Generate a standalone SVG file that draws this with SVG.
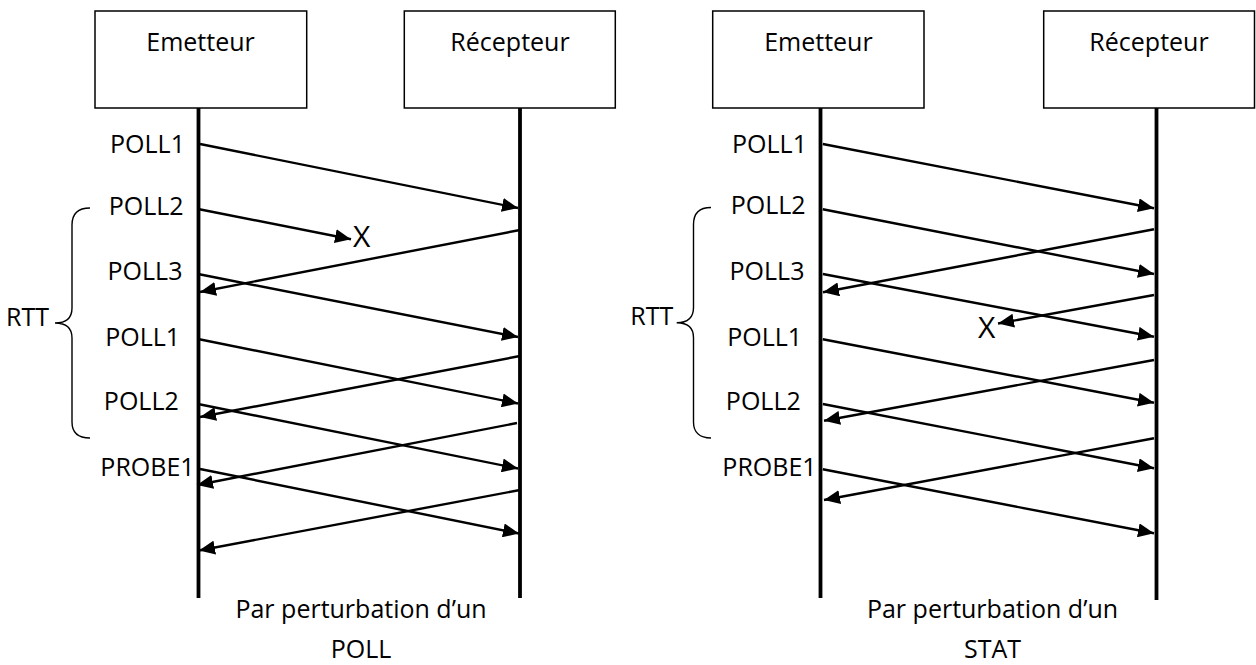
<svg xmlns="http://www.w3.org/2000/svg" width="1256" height="665" viewBox="0 0 1256 665">
  <style>
    .box { fill: #ffffff; stroke: #000000; stroke-width: 1.5; }
    .life { stroke: #000000; stroke-width: 3.8; fill: none; }
    .msg { stroke: #000000; stroke-width: 2.4; fill: none; marker-end: url(#head); }
    .brace { stroke: #000000; stroke-width: 1.4; fill: none; }
    text { font-family: "Open Sans", "Noto Sans", "DejaVu Sans", sans-serif; font-size: 25px; fill: #000000; }
    .c { text-anchor: middle; }
    .lost { font-size: 30px; }
  </style>
  <defs>
    <marker id="head" viewBox="0 0 16 14" refX="16" refY="7" markerWidth="16" markerHeight="14" markerUnits="userSpaceOnUse" orient="auto">
      <path d="M0,0 L16,7 L0,14 z" fill="#000000"/>
    </marker>
  </defs>

  <!-- Scenario 1: a lost POLL -->
  <g id="emetteur-1">
    <rect class="box" x="95" y="11" width="211.7" height="97"/>
    <text class="c" x="200.5" y="50.7">Emetteur</text>
    <line class="life" x1="198.5" y1="108" x2="198.5" y2="598"/>
  </g>
  <g id="recepteur-1">
    <rect class="box" x="404.3" y="11" width="211" height="97"/>
    <text class="c" x="510" y="50.7">Récepteur</text>
    <line class="life" x1="520" y1="108" x2="520" y2="598"/>
  </g>
  <g id="labels-1">
    <text class="c" x="147.5" y="153">POLL1</text>
    <text class="c" x="146.2" y="215">POLL2</text>
    <text class="c" x="145" y="280">POLL3</text>
    <text class="c" x="142.7" y="345.7">POLL1</text>
    <text class="c" x="141.3" y="410">POLL2</text>
    <text class="c" x="147.5" y="476">PROBE1</text>
    <text class="lost c" x="361.7" y="246.7">X</text>
  </g>
  <g id="rtt-1">
    <path class="brace" d="M90,208 C78,208 72,214 72,225 L72,308 C72,318 66,323 55,323 C66,323 72,328 72,338 L72,422 C72,432 78,438 90,438"/>
    <text x="49" y="325.7" text-anchor="end">RTT</text>
  </g>
  <g id="caption-1">
    <text class="c" x="361" y="617.5">Par perturbation d’un</text>
    <text class="c" x="361" y="658">POLL</text>
  </g>

  <!-- Scenario 2: a lost STAT -->
  <g id="emetteur-2">
    <rect class="box" x="712.7" y="11" width="211.3" height="97"/>
    <text class="c" x="818.4" y="50.7">Emetteur</text>
    <line class="life" x1="820.5" y1="108" x2="820.5" y2="598"/>
  </g>
  <g id="recepteur-2">
    <rect class="box" x="1043.7" y="11" width="210.8" height="97"/>
    <text class="c" x="1149" y="50.7">Récepteur</text>
    <line class="life" x1="1156.5" y1="108" x2="1156.5" y2="600"/>
  </g>
  <g id="labels-2">
    <text class="c" x="769.5" y="153">POLL1</text>
    <text class="c" x="768.2" y="214">POLL2</text>
    <text class="c" x="767" y="280">POLL3</text>
    <text class="c" x="764.7" y="345.7">POLL1</text>
    <text class="c" x="763.3" y="410">POLL2</text>
    <text class="c" x="769.5" y="476">PROBE1</text>
    <text class="lost c" x="986.7" y="338.3">X</text>
  </g>
  <g id="rtt-2">
    <path class="brace" d="M711,207.5 C699.5,207.5 693.5,213.5 693.5,224.5 L693.5,307.5 C693.5,317.5 687.5,322.7 676.7,322.7 C687.5,322.7 693.5,327.7 693.5,337.7 L693.5,422 C693.5,432 699.5,438 711,438"/>
    <text x="673.3" y="325.3" text-anchor="end">RTT</text>
  </g>
  <g id="caption-2">
    <text class="c" x="992.5" y="617.5">Par perturbation d’un</text>
    <text class="c" x="992.5" y="658">STAT</text>
  </g>

  <!-- Messages -->
  <g id="connectors">
    <line class="msg" x1="200" y1="144" x2="518" y2="208"/>
    <line class="msg" x1="198" y1="209" x2="351" y2="239.3"/>
    <line class="msg" x1="520" y1="230" x2="200" y2="292"/>
    <line class="msg" x1="198" y1="274" x2="518" y2="337"/>
    <line class="msg" x1="198" y1="339" x2="518" y2="403.5"/>
    <line class="msg" x1="520" y1="356" x2="200" y2="417"/>
    <line class="msg" x1="198" y1="404" x2="518" y2="468.5"/>
    <line class="msg" x1="517" y1="423" x2="197" y2="485"/>
    <line class="msg" x1="200" y1="469" x2="519" y2="533.5"/>
    <line class="msg" x1="520" y1="490" x2="199" y2="550.5"/>

    <line class="msg" x1="822.8" y1="144" x2="1154" y2="208.3"/>
    <line class="msg" x1="822.8" y1="209.3" x2="1154" y2="274"/>
    <line class="msg" x1="1154" y1="229.3" x2="823" y2="292.3"/>
    <line class="msg" x1="822.8" y1="274" x2="1154" y2="336.7"/>
    <line class="msg" x1="1154" y1="295" x2="998" y2="323.5"/>
    <line class="msg" x1="822.8" y1="339.3" x2="1154" y2="402.7"/>
    <line class="msg" x1="1154" y1="360" x2="824" y2="420.7"/>
    <line class="msg" x1="822.8" y1="404" x2="1154" y2="468.3"/>
    <line class="msg" x1="1154" y1="438.3" x2="824" y2="500"/>
    <line class="msg" x1="822.8" y1="469.3" x2="1154" y2="533.3"/>
  </g>
</svg>
